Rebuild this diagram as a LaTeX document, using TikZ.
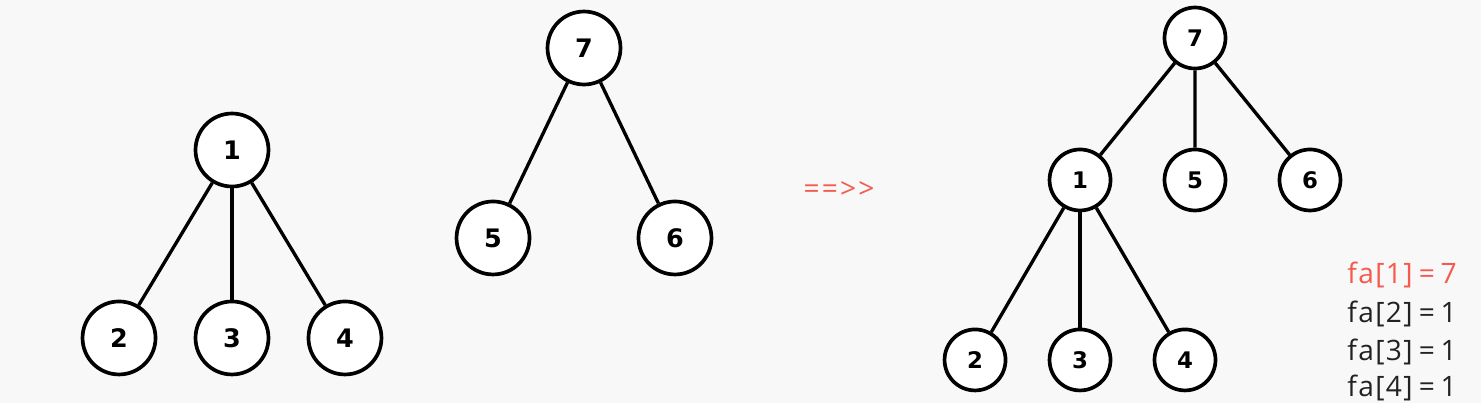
\documentclass[tikz,border=0pt]{standalone}
\usepackage{fontspec}
\setmainfont{Open Sans}
\newfontfamily\digitfont{DejaVu Sans}
\definecolor{bgcol}{HTML}{F8F8F8}
\definecolor{redtxt}{HTML}{F55A4E}
\definecolor{darktxt}{HTML}{222222}
\begin{document}
\begin{tikzpicture}[x=0.02cm,y=-0.02cm]
\tikzstyle{every node}=[text centered]
\tikzstyle{vertex} = [circle, draw, fill=white, line width=2.1pt, minimum size=1.46cm, inner sep=0pt, font=\digitfont\bfseries\fontsize{14.5}{16}\selectfont];
\tikzstyle{smallvertex} = [vertex, minimum size=1.22cm, font=\digitfont\bfseries\fontsize{13}{15}\selectfont];
\tikzstyle{edge} = [line width=1.9pt];
\fill[bgcol] (0,0) rectangle (1481,403);
% left tree
\node[vertex] (a1) at (232,150) {1}[level distance=3.76cm, sibling distance=2.26cm]
[grow=down, edge from parent/.style={draw,edge}]
  child {node[vertex] (a2) {2}}
  child {node[vertex] (a3) {3}}
  child {node[vertex] (a4) {4}};
% middle tree
\node[vertex] (b7) at (584,48) {7}[level distance=3.8cm, sibling distance=3.64cm]
[grow=down, edge from parent/.style={draw,edge}]
  child {node[vertex] (b5) {5}}
  child {node[vertex] (b6) {6}};
\node[text=redtxt, font=\fontsize{16}{18}\selectfont] (arrow) at (839,190) {=\kern1.2pt=\kern1.2pt>\kern1.2pt>};
% merged tree
\node[smallvertex] (c7) at (1195,38) {7}[level distance=2.84cm, sibling distance=2.3cm]
[grow=down, edge from parent/.style={draw,edge}]
  child {node[smallvertex] (c1) {1}[level distance=3.6cm, sibling distance=2.1cm]
     child {node[smallvertex] (c2) {2}}
     child {node[smallvertex] (c3) {3}}
     child {node[smallvertex] (c4) {4}}
  }
  child {node[smallvertex] (c5) {5}}
  child {node[smallvertex] (c6) {6}};
% fa values
\tikzstyle{faline} = [anchor=west, inner sep=0pt, font=\fontsize{16}{18}\selectfont\addfontfeature{LetterSpace=5}, text=darktxt];
\node[faline, text=redtxt] (fa1) at (1347,275) {fa[1]\hspace{0.22em}=\hspace{0.2em}7};
\node[faline] (fa2) at (1347,314) {fa[2]\hspace{0.22em}=\hspace{0.2em}1};
\node[faline] (fa3) at (1347,352) {fa[3]\hspace{0.22em}=\hspace{0.2em}1};
\node[faline] (fa4) at (1347,388) {fa[4]\hspace{0.22em}=\hspace{0.2em}1};
\end{tikzpicture}
\end{document}
